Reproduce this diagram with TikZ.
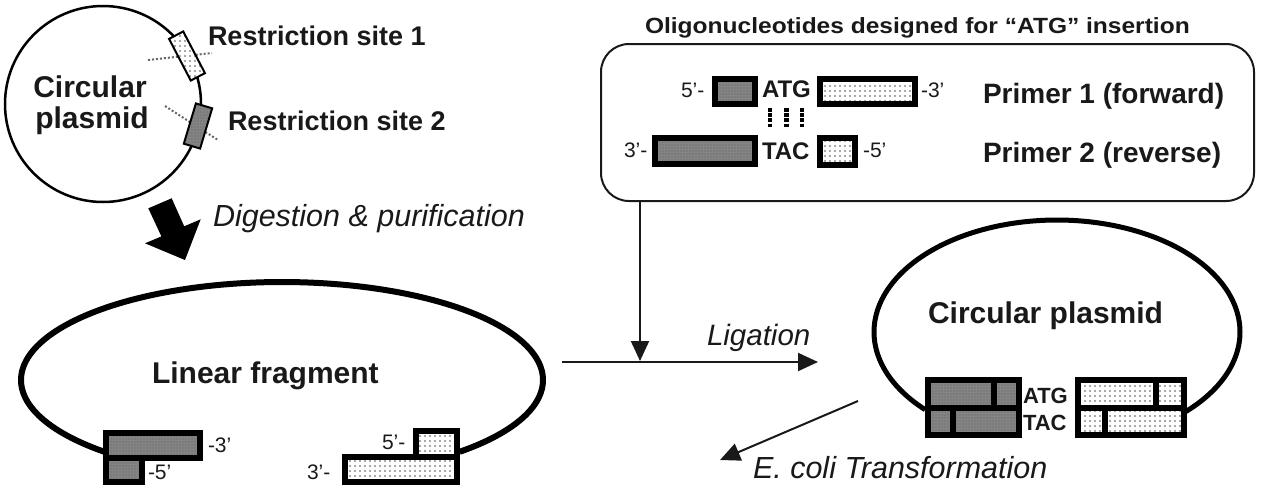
\documentclass[tikz,border=0pt]{standalone}
\usepackage{fontspec}
\setmainfont{Liberation Sans}
\usetikzlibrary{arrows.meta,patterns.meta}
\definecolor{darkfill}{RGB}{132,132,132}
\definecolor{darkdot}{RGB}{95,95,95}
\definecolor{lightdot}{RGB}{140,140,140}
\definecolor{inkc}{RGB}{25,25,25}
\begin{document}
\begin{tikzpicture}[x=1pt,y=-1pt,
  txt/.style={inner sep=0pt, outer sep=0pt, text=inkc, anchor=base west},
  bigbold/.style={txt, font=\bfseries\fontsize{30}{32}\selectfont},
  midbold/.style={txt, font=\bfseries\fontsize{27}{29}\selectfont},
  itl/.style={txt, font=\itshape\fontsize{30.5}{32}\selectfont},
  endlbl/.style={txt, font=\fontsize{21}{23}\selectfont},
  basebold/.style={txt, font=\bfseries\fontsize{24}{26}\selectfont},
  darkpat/.style={preaction={fill=darkfill}, pattern={Dots[distance=3pt,radius=0.7pt]}, pattern color=darkdot},
  lightpat/.style={preaction={fill=white}, pattern={Dots[distance=5pt,radius=1.2pt]}, pattern color=lightdot},
  darkseg/.style={darkpat, draw=black, line width=6pt},
  lightseg/.style={lightpat, draw=black, line width=6pt},
  conn/.style={line width=2pt, draw=inkc, -{Triangle[length=20pt,width=18pt]}},
  siteline/.style={draw=black!60, line width=2pt, dotted},
]
\useasboundingbox (0,0) rectangle (1261,496);

% ---------- top-left circular plasmid ----------
\draw[line width=2.5pt] (103,104) circle[radius=98pt];
\draw[siteline] (148,60) -- (212,53);
\draw[siteline] (165,106) -- (218,140);
\node[draw, line width=2pt, lightpat, minimum width=47pt, minimum height=16pt, inner sep=0pt, rotate=-62.5] (site1) at (187,56) {};
\node[draw, line width=2pt, darkpat, minimum width=42pt, minimum height=17pt, inner sep=0pt, rotate=73.3] (site2) at (198,126) {};
\node[bigbold, anchor=base] (cp1a) at (90,97) {Circular};
\node[bigbold, anchor=base] (cp1b) at (92,128) {plasmid};
\node[midbold] (rs1) at (208,45) {Restriction site 1};
\node[midbold] (rs2) at (228,130) {Restriction site 2};

% ---------- big digestion arrow ----------
\fill[black] (148.3,208.3) -- (161.4,236.4) -- (145,243.3) -- (185,260) -- (200.7,219.3) -- (184.2,226.3) -- (171.7,198.3) -- cycle;
\node[itl] (dig) at (213,226) {Digestion \& purification};

% ---------- oligonucleotide box ----------
\node[txt, font=\bfseries\fontsize{22}{24}\selectfont] (title) at (645,33) {\scalebox{1.115}[1]{Oligonucleotides designed for “ATG” insertion}};
\node[draw=inkc, line width=2pt, rounded corners=28pt, minimum width=653pt, minimum height=157pt, inner sep=0pt] (oligobox) at (927.5,122.5) {};

\draw[darkseg] (715,79) rectangle (755,104);
\draw[lightseg] (820,79) rectangle (915,104);
\draw[darkseg] (655,138) rectangle (755,164);
\draw[lightseg] (820,138) rectangle (855,165);
\node[endlbl] (p1five) at (681,97) {5’-};
\node[basebold] (atg1) at (762,97) {ATG};
\node[endlbl] (p1three) at (921,97) {-3’};
\node[endlbl] (p2three) at (624,157) {3’-};
\node[basebold] (tac1) at (762,159) {TAC};
\node[endlbl] (p2five) at (863,157) {-5’};
\foreach \xx in {770,786.5,802}
  \draw[line width=4.5pt, dash pattern=on 3.5pt off 1.7pt] (\xx,108) -- (\xx,128);
\node[txt, font=\bfseries\fontsize{28}{30}\selectfont] (pr1) at (983,103) {Primer 1 (forward)};
\node[txt, font=\bfseries\fontsize{28}{30}\selectfont] (pr2) at (983,162) {Primer 2 (reverse)};

% ---------- linear fragment ----------
\draw[line width=6pt] plot[domain=132.9:407.1, samples=160] ({282+261*cos(\x)},{380+98*sin(\x)});
\node[bigbold] (lin) at (152,383) {Linear fragment};
\draw[darkseg] (106,458) rectangle (142,482);
\draw[darkseg] (106,433) rectangle (200,458);
\draw[lightseg] (345,457) rectangle (457,482);
\draw[lightseg] (416,431) rectangle (457,457);
\node[endlbl] (lf3a) at (208,452) {-3’};
\node[endlbl] (lf5a) at (148,479) {-5’};
\node[endlbl] (lf5b) at (382,449) {5’-};
\node[endlbl] (lf3b) at (307,479) {3’-};

% ---------- ligation ----------
\coordinate (ligstart) at (562,362);
\coordinate (ligend) at (818,362);
\coordinate (ligjoin) at (640,361);
\draw[conn] (ligstart) -- (ligend);
\draw[conn] (oligobox.south -| ligjoin) -- (ligjoin);
\node[itl, font=\itshape\fontsize{29.5}{31}\selectfont] (lig) at (707,345) {Ligation};

% ---------- resulting circular plasmid ----------
\draw[line width=5pt] plot[domain=136.1:405.3, samples=160] ({1057+183*cos(\x)},{332+112*sin(\x)});
\node[bigbold] (cp2) at (928,323) {Circular plasmid};
\path[darkpat] (928,380) rectangle (1019,435);
\draw[line width=6pt] (928,380) rectangle (1019,435) (928,408) -- (1019,408) (993.5,380) -- (993.5,408) (953,408) -- (953,435);
\path[lightpat] (1078,380) rectangle (1184,435);
\draw[line width=6pt] (1078,380) rectangle (1184,435) (1078,408) -- (1184,408) (1156,380) -- (1156,408) (1105,408) -- (1105,435);
\node[txt, font=\bfseries\fontsize{22}{24}\selectfont] (atg2) at (1023,403) {ATG};
\node[txt, font=\bfseries\fontsize{22}{24}\selectfont] (tac2) at (1023,430) {TAC};

% ---------- transformation ----------
\coordinate (ecstart) at (858,401);
\coordinate (ecend) at (720,460);
\draw[conn] (ecstart) -- (ecend);
\node[itl] (ecoli) at (753,478) {E. coli Transformation};
\end{tikzpicture}
\end{document}
